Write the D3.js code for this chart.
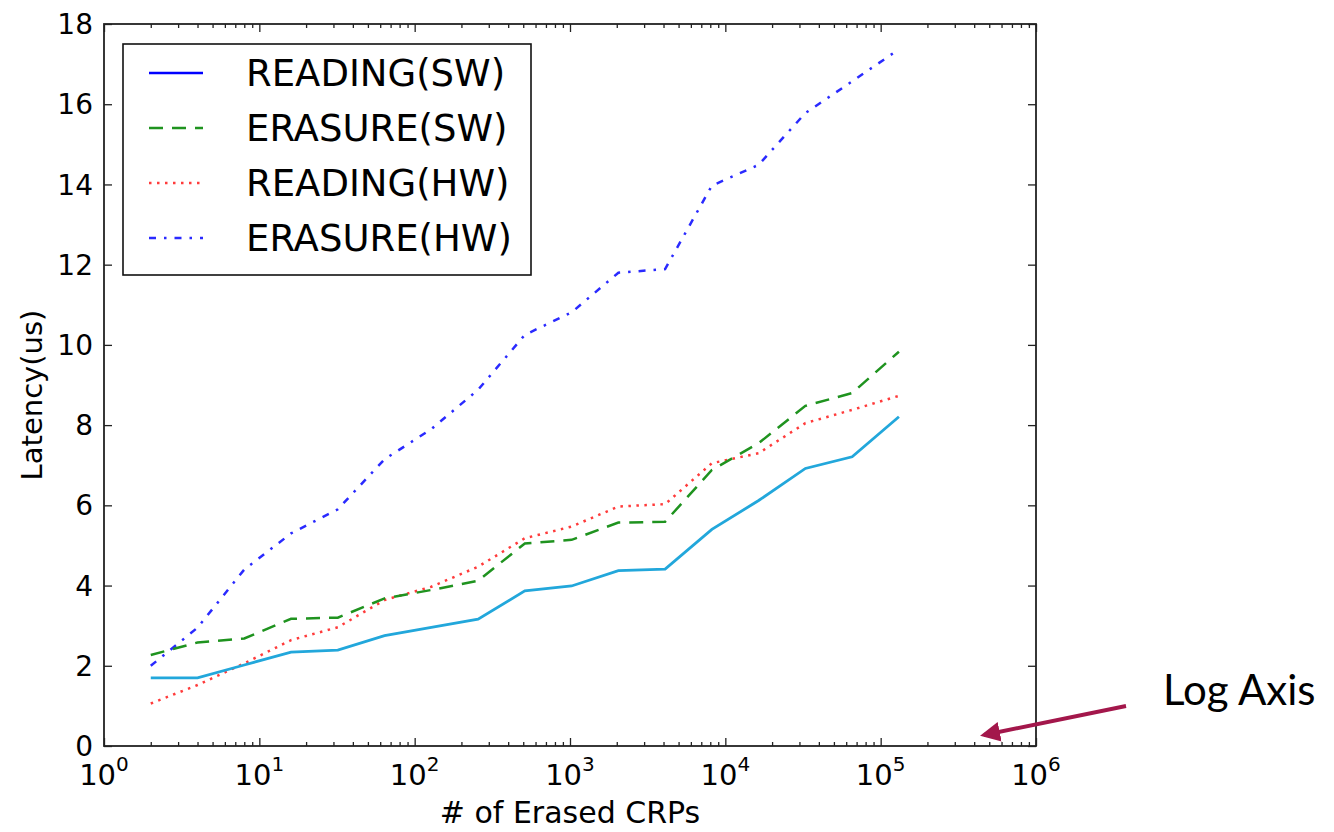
<!DOCTYPE html>
<html>
<head>
<meta charset="utf-8">
<script src="https://cdn.jsdelivr.net/npm/d3@7"></script>
<style>
  body { margin: 0; background: #fff; }
  svg text { font-family: "DejaVu Sans", sans-serif; fill: #000; }
</style>
</head>
<body>
<div id="chart"></div>
<script>
// number of erased CRPs (x, log axis)
var erasedCRPs = [2, 4, 8, 16, 32, 64, 128, 256, 512, 1024, 2048, 4096, 8192, 16384, 32768, 65536, 131072];
// latency in us for each series
var readingSW = [1.70, 1.70, 2.02, 2.34, 2.39, 2.75, 2.96, 3.16, 3.87, 3.99, 4.37, 4.41, 5.40, 6.12, 6.92, 7.21, 8.21];
var erasureSW = [2.27, 2.58, 2.68, 3.17, 3.20, 3.68, 3.89, 4.12, 5.05, 5.14, 5.57, 5.59, 6.88, 7.55, 8.48, 8.80, 9.83];
var readingHW = [1.06, 1.52, 2.06, 2.64, 2.96, 3.64, 3.97, 4.47, 5.18, 5.47, 5.97, 6.03, 7.05, 7.30, 8.05, 8.38, 8.73];
var erasureHW = [2.00, 2.95, 4.40, 5.30, 5.90, 7.15, 7.90, 8.88, 10.25, 10.81, 11.80, 11.89, 13.97, 14.49, 15.78, 16.57, 17.37];
var seriesNames = ['READING(SW)', 'ERASURE(SW)', 'READING(HW)', 'ERASURE(HW)'];
var yTicks = [0, 2, 4, 6, 8, 10, 12, 14, 16, 18];
var xTicks = [1, 10, 100, 1000, 10000, 100000, 1000000];

(function(d3) {
  'use strict';
  var width = 1334;
  var height = 832;
  var left = 104, right = 1036, top = 24, bottom = 746;

  var svg = d3.select('#chart')
    .append('svg')
    .attr('width', width)
    .attr('height', height);

  var x = d3.scaleLog().domain([1, 1e6]).range([left, right]);
  var y = d3.scaleLinear().domain([0, 18]).range([bottom, top]);

  var styles = [
    { line: '#22a7db', legend: '#0000ff', dash: null },
    { line: '#1f931f', legend: '#1f931f', dash: '14,9' },
    { line: '#ff3b3b', legend: '#ff3b3b', dash: '2.5,5.5' },
    { line: '#2a2aff', legend: '#2a2aff', dash: '7,8,2.5,8' }
  ];
  var series = [readingSW, erasureSW, readingHW, erasureHW];

  // minor tick values on the log axis
  var minor = [];
  for (var e = 0; e < 6; e++) {
    for (var m = 2; m < 10; m++) minor.push(m * Math.pow(10, e));
  }

  // ticks, all pointing inward
  svg.append('g').attr('transform', 'translate(0,' + bottom + ')')
    .call(d3.axisBottom(x).tickValues(xTicks).tickSize(-8).tickFormat(''));
  svg.append('g').attr('transform', 'translate(0,' + bottom + ')')
    .call(d3.axisBottom(x).tickValues(minor).tickSize(-4).tickFormat(''));
  svg.append('g').attr('transform', 'translate(0,' + top + ')')
    .call(d3.axisTop(x).tickValues(xTicks).tickSize(-8).tickFormat(''));
  svg.append('g').attr('transform', 'translate(0,' + top + ')')
    .call(d3.axisTop(x).tickValues(minor).tickSize(-4).tickFormat(''));
  svg.append('g').attr('transform', 'translate(' + left + ',0)')
    .call(d3.axisLeft(y).tickValues(yTicks).tickSize(-8).tickFormat(''));
  svg.append('g').attr('transform', 'translate(' + right + ',0)')
    .call(d3.axisRight(y).tickValues(yTicks).tickSize(-8).tickFormat(''));
  svg.selectAll('.domain').remove();
  svg.selectAll('.tick line').attr('stroke', '#222').attr('stroke-width', 1.3);

  // frame
  svg.append('rect')
    .attr('x', left).attr('y', top)
    .attr('width', right - left).attr('height', bottom - top)
    .attr('fill', 'none').attr('stroke', '#222').attr('stroke-width', 1.8);

  // y tick labels
  svg.selectAll('.ylab')
    .data(yTicks)
    .enter()
    .append('text')
    .attr('x', left - 11)
    .attr('y', function(d) { return y(d); })
    .attr('dy', '0.36em')
    .attr('text-anchor', 'end')
    .style('font-size', '28px')
    .text(function(d) { return d; });

  // x tick labels 10^n
  var xl = svg.selectAll('.xlab')
    .data(xTicks)
    .enter()
    .append('text')
    .attr('x', function(d) { return x(d); })
    .attr('y', bottom + 39)
    .attr('text-anchor', 'middle')
    .style('font-size', '29px');
  xl.append('tspan').text('10');
  xl.append('tspan')
    .attr('dy', -14)
    .style('font-size', '20px')
    .text(function(d) { return Math.round(Math.log10(d)); });

  // axis titles
  svg.append('text')
    .attr('x', (left + right) / 2)
    .attr('y', 823)
    .attr('text-anchor', 'middle')
    .style('font-size', '30px')
    .text('# of Erased CRPs');
  svg.append('text')
    .attr('transform', 'translate(42,395) rotate(-90)')
    .attr('text-anchor', 'middle')
    .style('font-size', '29px')
    .text('Latency(us)');

  // lines
  var line = d3.line()
    .x(function(d, i) { return x(erasedCRPs[i]); })
    .y(function(d) { return y(d); });
  // draw in reverse so the solid line sits on top
  [3, 2, 1, 0].forEach(function(k) {
    svg.append('path')
      .datum(series[k])
      .attr('d', line)
      .attr('fill', 'none')
      .attr('stroke', styles[k].line)
      .attr('stroke-width', k === 0 ? 2.8 : 2.5)
      .attr('stroke-dasharray', styles[k].dash);
  });

  // legend
  var legend = svg.append('g');
  legend.append('rect')
    .attr('x', 123).attr('y', 44)
    .attr('width', 408).attr('height', 231)
    .attr('fill', '#fff').attr('stroke', '#111').attr('stroke-width', 1.6);
  var rows = legend.selectAll('.legend')
    .data(seriesNames)
    .enter()
    .append('g')
    .attr('transform', function(d, i) { return 'translate(0,' + (73 + i * 55) + ')'; });
  rows.append('line')
    .attr('x1', 149).attr('x2', 203)
    .attr('stroke', function(d, i) { return styles[i].legend; })
    .attr('stroke-width', 2.5)
    .attr('stroke-dasharray', function(d, i) { return styles[i].dash; });
  rows.append('text')
    .attr('x', 246)
    .attr('dy', '0.36em')
    .style('font-size', '37px')
    .text(function(d) { return d; });

  // annotation
  var defs = svg.append('defs');
  defs.append('marker')
    .attr('id', 'head')
    .attr('viewBox', '0 0 10 10')
    .attr('refX', 8).attr('refY', 5)
    .attr('markerWidth', 5).attr('markerHeight', 5)
    .attr('orient', 'auto')
    .append('path')
    .attr('d', 'M0,0 L10,5 L0,10 Z')
    .attr('fill', '#a3174b');
  svg.append('line')
    .attr('x1', 1126).attr('y1', 706)
    .attr('x2', 984).attr('y2', 735)
    .attr('stroke', '#a3174b')
    .attr('stroke-width', 4)
    .attr('marker-end', 'url(#head)');
  svg.append('text')
    .attr('x', 1163)
    .attr('y', 705)
    .style('font-family', 'Lato, "Open Sans", sans-serif')
    .style('font-size', '42px')
    .text('Log Axis');
})(window.d3);
</script>
</body>
</html>
